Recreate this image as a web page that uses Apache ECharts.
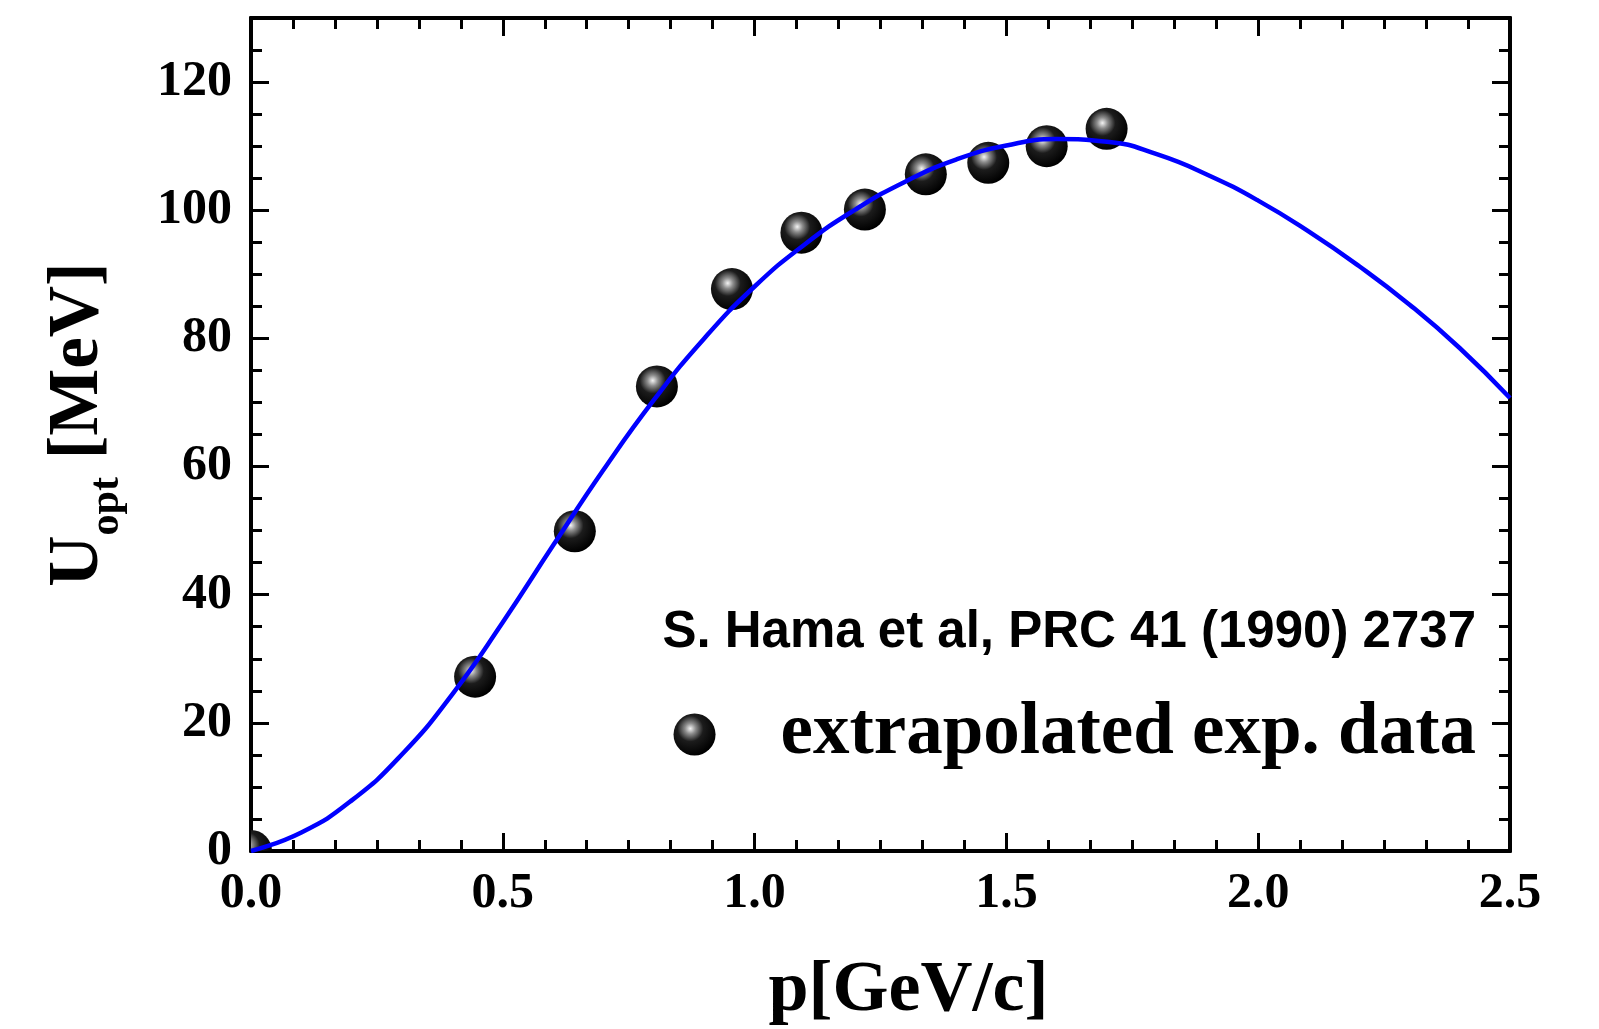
<!DOCTYPE html>
<html>
<head>
<meta charset="utf-8">
<title>U_opt vs p</title>
<script src="https://cdn.jsdelivr.net/npm/echarts@6/dist/echarts.min.js"></script>
<style>
  html, body { margin: 0; padding: 0; background: #fff; }
  #chart { width: 1599px; height: 1029px; }
</style>
</head>
<body>
<div id="chart"></div>
<script>
// extrapolated exp. data (S. Hama et al)
var expP = [0.0, 0.445, 0.643, 0.806, 0.955, 1.093, 1.219, 1.340, 1.464, 1.580, 1.699];
var expU = [0.0, 27.2, 49.9, 72.5, 87.7, 96.5, 100.1, 105.6, 107.4, 110.0, 112.7];

// blue curve
var curveP = [0.0, 0.1, 0.2, 0.3, 0.4, 0.5, 0.6, 0.7, 0.8, 0.9, 1.0, 1.1, 1.2,
              1.3, 1.4, 1.5, 1.6, 1.7, 1.8, 1.9, 2.0, 2.1, 2.2, 2.3, 2.4, 2.5];
var curveU = [0.0, 2.9, 7.9, 15.1, 24.5, 35.7, 47.7, 59.5, 70.4, 80.0, 88.1, 94.7, 100.1,
              104.5, 107.9, 110.1, 111.1, 110.7, 108.7, 105.5, 101.5, 96.7, 91.3, 85.3, 78.5, 70.7];

var legendName = 'extrapolated exp. data';
var refText = 'S. Hama et al, PRC 41 (1990) 2737';

(function () {
    var chart = echarts.init(document.getElementById('chart'));

    var serif = 'Liberation Serif';
    var sans = 'Liberation Sans';

    var sphere = {
        type: 'radial', x: 0.4, y: 0.36, r: 0.64,
        colorStops: [
            { offset: 0, color: '#f4f4f4' },
            { offset: 0.2, color: '#8c8c8c' },
            { offset: 0.48, color: '#1c1c1c' },
            { offset: 1, color: '#000' }
        ]
    };

    var points = expP.map(function (p, i) { return [p, expU[i]]; });
    var curve = curveP.map(function (p, i) { return [p, curveU[i]]; });

    var lineStyle = { color: '#000', width: 4 };

    function xAx(pos, labels) {
        return {
            type: 'value', position: pos, min: 0, max: 2.5, interval: 0.5,
            axisLine: { show: true, onZero: false, lineStyle: lineStyle },
            axisTick: { show: true, inside: true, length: 18, lineStyle: { color: '#000', width: 3 } },
            minorTick: { show: true, splitNumber: 6, length: 11, lineStyle: { color: '#000', width: 3 } },
            splitLine: { show: false },
            axisLabel: labels ? {
                show: true, margin: 18, color: '#000',
                fontFamily: serif, fontWeight: 'bold', fontSize: 50,
                formatter: function (v) { return v.toFixed(1); }
            } : { show: false },
            name: labels ? 'p[GeV/c]' : '',
            nameLocation: 'middle', nameGap: 104,
            nameTextStyle: {
                color: '#000', fontFamily: serif, fontWeight: 'bold', fontSize: 72,
                padding: [0, 0, 0, 56]
            }
        };
    }

    function yAx(pos, step, len, labels) {
        return {
            type: 'value', position: pos, min: 0, max: 130, interval: step,
            axisLine: { show: true, onZero: false, lineStyle: lineStyle },
            axisTick: { show: true, inside: true, length: len, lineStyle: { color: '#000', width: 3 } },
            splitLine: { show: false },
            axisLabel: labels ? {
                show: true, margin: 19, color: '#000', showMaxLabel: false,
                fontFamily: serif, fontWeight: 'bold', fontSize: 50
            } : { show: false },
            name: labels ? '{u|U}{s|opt}{m| [MeV]}' : '',
            nameLocation: 'middle', nameGap: 123, nameRotate: 90,
            nameTextStyle: {
                color: '#000', fontFamily: serif, fontWeight: 'bold',
                rich: {
                    u: { fontFamily: serif, fontWeight: 'bold', fontSize: 71, color: '#000', padding: [0, 0, 14, 20] },
                    m: { fontFamily: serif, fontWeight: 'bold', fontSize: 71, color: '#000', padding: [0, 0, 14, 0] },
                    s: { fontFamily: serif, fontWeight: 'bold', fontSize: 42, color: '#000', verticalAlign: 'bottom' }
                }
            }
        };
    }

    var option = {
        backgroundColor: '#fff',
        animation: false,
        grid: { left: 251, right: 89, top: 18, bottom: 178, containLabel: false, outerBoundsMode: 'none' },
        title: {
            text: refText, right: 123, top: 607, padding: 0,
            textStyle: { color: '#000', fontFamily: sans, fontWeight: 'bold', fontSize: 51 }
        },
        legend: {
            data: [{ name: legendName, icon: 'circle', itemStyle: { color: sphere } }],
            right: 123, top: 698, padding: 0,
            itemWidth: 42, itemHeight: 42,
            textStyle: { color: '#000', fontFamily: serif, fontWeight: 'bold', fontSize: 73, padding: [0, 0, 0, 60] }
        },
        xAxis: [xAx('bottom', true), xAx('top', false)],
        yAxis: [
            yAx('left', 20, 18, true),
            yAx('left', 5, 11, false),
            yAx('right', 20, 18, false),
            yAx('right', 5, 11, false)
        ],
        series: [
            {
                name: legendName,
                type: 'custom',
                xAxisIndex: 0, yAxisIndex: 0,
                clip: true,
                z: 2,
                itemStyle: { color: sphere },
                encode: { x: 0, y: 1 },
                data: points,
                renderItem: function (params, api) {
                    var pt = api.coord([api.value(0), api.value(1)]);
                    return {
                        type: 'circle',
                        shape: { cx: pt[0], cy: pt[1], r: 21 },
                        style: { fill: sphere }
                    };
                }
            },
            {
                name: 'curve',
                type: 'line',
                xAxisIndex: 0, yAxisIndex: 0,
                smooth: 0.5,
                showSymbol: false,
                z: 3,
                lineStyle: { color: '#0000ff', width: 4.5 },
                data: curve
            }
        ]
    };

    chart.setOption(option);
})();
</script>
</body>
</html>
